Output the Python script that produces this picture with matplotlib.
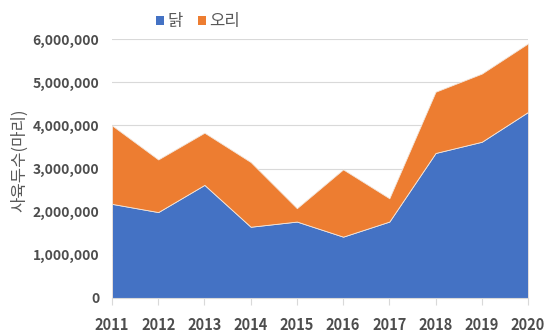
import numpy as np
import matplotlib
matplotlib.use('Agg')
import matplotlib.pyplot as plt
from matplotlib.patches import Patch
from matplotlib.ticker import FuncFormatter

plt.rcParams['font.family'] = ['Noto Sans CJK KR', 'DejaVu Sans']

years = [2011, 2012, 2013, 2014, 2015, 2016, 2017, 2018, 2019, 2020]
# head counts (마리)
chicken = [2180000, 1990000, 2620000, 1650000, 1770000, 1420000, 1770000, 3360000, 3620000, 4310000]
total = [4000000, 3210000, 3830000, 3150000, 2080000, 2980000, 2310000, 4780000, 5200000, 5900000]
duck = [t - c for t, c in zip(total, chicken)]

labels = ['닭', '오리']
colors = ['#4472C4', '#ED7D31']
yticks = [0, 1000000, 2000000, 3000000, 4000000, 5000000, 6000000]

fig = plt.figure(figsize=(5.5, 3.34), dpi=100)
ax = fig.add_axes([0.2036, 0.108, 0.7564, 0.775])

ax.stackplot(years, chicken, duck, colors=colors, edgecolor='#F2E6DC', linewidth=0.6, zorder=2)

ax.set_xlim(years[0], years[-1])
ax.set_ylim(0, 6000000)
ax.set_yticks(yticks)
ax.yaxis.set_major_formatter(FuncFormatter(lambda v, p: '{:,.0f}'.format(v)))
ax.set_xticks(years)
ax.grid(axis='y', color='#D9D9D9', linewidth=0.8, zorder=0)
ax.set_axisbelow(True)

for s in ['top', 'right', 'left']:
    ax.spines[s].set_visible(False)
ax.spines['bottom'].set_color('#D9D9D9')

ax.tick_params(axis='y', length=0, pad=9, labelsize=10, labelcolor='#4D4D4D')
ax.tick_params(axis='x', length=5, color='#D9D9D9', pad=9, labelsize=10.5, labelcolor='#4D4D4D')
for t in ax.get_xticklabels() + ax.get_yticklabels():
    t.set_fontweight('bold')

fig.text(0.035, 0.52, '사육두수(마리)', rotation=90, ha='center', va='center',
         fontsize=12, color='#595959')

handles = [Patch(facecolor=c, edgecolor='none') for c in colors]
fig.legend(handles, labels, loc='center', bbox_to_anchor=(0.36, 0.935), ncol=2,
           frameon=False, fontsize=12, handlelength=0.5, handleheight=0.5,
           handletextpad=0.2, columnspacing=0.9, labelcolor='#595959')

fig.savefig('out.png', dpi=100)
